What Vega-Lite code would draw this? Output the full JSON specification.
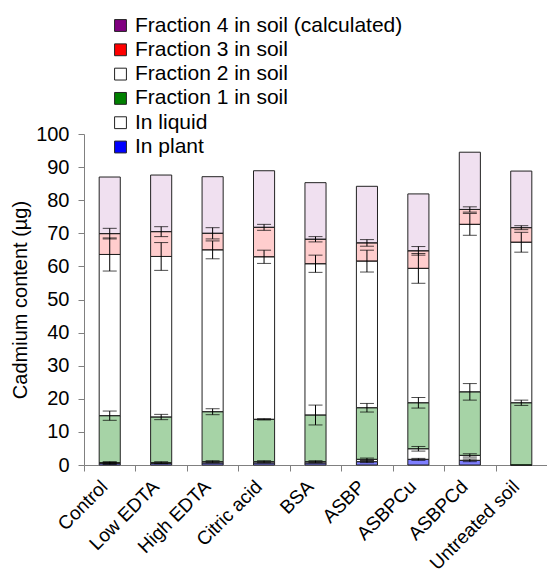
{
  "$schema": "https://vega.github.io/schema/vega-lite/v6.json",
  "width": 463,
  "height": 331,
  "autosize": {"type": "none"},
  "padding": {"left": 84, "top": 134, "right": 0, "bottom": 112},
  "background": "white",
  "config": {
    "font": "Liberation Sans",
    "view": {"stroke": null},
    "axis": {"grid": false, "labelFont": "Liberation Sans", "titleFont": "Liberation Sans", "labelColor": "black", "titleColor": "black", "domainColor": "#808080", "tickColor": "#808080"}
  },
  "data": {
    "values": [
      {"treatment": "Control", "series": "In plant", "order": 1, "value": 0.5, "err": 0.3},
      {"treatment": "Control", "series": "In liquid", "order": 2, "value": 0.2, "err": 0.3},
      {"treatment": "Control", "series": "Fraction 1 in soil", "order": 3, "value": 14.2, "err": 1.4},
      {"treatment": "Control", "series": "Fraction 2 in soil", "order": 4, "value": 48.7, "err": 5.0},
      {"treatment": "Control", "series": "Fraction 3 in soil", "order": 5, "value": 6.3, "err": 1.6},
      {"treatment": "Control", "series": "Fraction 4 in soil (calculated)", "order": 6, "value": 17.1, "err": null},

      {"treatment": "Low EDTA", "series": "In plant", "order": 1, "value": 0.5, "err": null},
      {"treatment": "Low EDTA", "series": "In liquid", "order": 2, "value": 0.2, "err": 0.3},
      {"treatment": "Low EDTA", "series": "Fraction 1 in soil", "order": 3, "value": 13.8, "err": 0.8},
      {"treatment": "Low EDTA", "series": "Fraction 2 in soil", "order": 4, "value": 48.5, "err": 4.2},
      {"treatment": "Low EDTA", "series": "Fraction 3 in soil", "order": 5, "value": 7.5, "err": 1.5},
      {"treatment": "Low EDTA", "series": "Fraction 4 in soil (calculated)", "order": 6, "value": 17.1, "err": null},

      {"treatment": "High EDTA", "series": "In plant", "order": 1, "value": 0.6, "err": null},
      {"treatment": "High EDTA", "series": "In liquid", "order": 2, "value": 0.4, "err": 0.3},
      {"treatment": "High EDTA", "series": "Fraction 1 in soil", "order": 3, "value": 15.1, "err": 0.9},
      {"treatment": "High EDTA", "series": "Fraction 2 in soil", "order": 4, "value": 48.9, "err": 2.7},
      {"treatment": "High EDTA", "series": "Fraction 3 in soil", "order": 5, "value": 5.0, "err": 1.7},
      {"treatment": "High EDTA", "series": "Fraction 4 in soil (calculated)", "order": 6, "value": 17.1, "err": null},

      {"treatment": "Citric acid", "series": "In plant", "order": 1, "value": 0.6, "err": null},
      {"treatment": "Citric acid", "series": "In liquid", "order": 2, "value": 0.4, "err": 0.3},
      {"treatment": "Citric acid", "series": "Fraction 1 in soil", "order": 3, "value": 12.8, "err": 0.2},
      {"treatment": "Citric acid", "series": "Fraction 2 in soil", "order": 4, "value": 49.1, "err": 2.0},
      {"treatment": "Citric acid", "series": "Fraction 3 in soil", "order": 5, "value": 8.9, "err": 0.9},
      {"treatment": "Citric acid", "series": "Fraction 4 in soil (calculated)", "order": 6, "value": 17.1, "err": null},

      {"treatment": "BSA", "series": "In plant", "order": 1, "value": 0.6, "err": null},
      {"treatment": "BSA", "series": "In liquid", "order": 2, "value": 0.4, "err": 0.3},
      {"treatment": "BSA", "series": "Fraction 1 in soil", "order": 3, "value": 14.1, "err": 3.0},
      {"treatment": "BSA", "series": "Fraction 2 in soil", "order": 4, "value": 45.7, "err": 2.6},
      {"treatment": "BSA", "series": "Fraction 3 in soil", "order": 5, "value": 7.4, "err": 0.8},
      {"treatment": "BSA", "series": "Fraction 4 in soil (calculated)", "order": 6, "value": 17.1, "err": null},

      {"treatment": "ASBP", "series": "In plant", "order": 1, "value": 1.0, "err": 0.3},
      {"treatment": "ASBP", "series": "In liquid", "order": 2, "value": 0.7, "err": 0.4},
      {"treatment": "ASBP", "series": "Fraction 1 in soil", "order": 3, "value": 15.6, "err": 1.3},
      {"treatment": "ASBP", "series": "Fraction 2 in soil", "order": 4, "value": 44.3, "err": 3.3},
      {"treatment": "ASBP", "series": "Fraction 3 in soil", "order": 5, "value": 5.5, "err": 1.0},
      {"treatment": "ASBP", "series": "Fraction 4 in soil (calculated)", "order": 6, "value": 17.1, "err": null},

      {"treatment": "ASBPCu", "series": "In plant", "order": 1, "value": 1.7, "err": 0.3},
      {"treatment": "ASBPCu", "series": "In liquid", "order": 2, "value": 3.2, "err": 0.7},
      {"treatment": "ASBPCu", "series": "Fraction 1 in soil", "order": 3, "value": 13.9, "err": 1.6},
      {"treatment": "ASBPCu", "series": "Fraction 2 in soil", "order": 4, "value": 40.6, "err": 4.5},
      {"treatment": "ASBPCu", "series": "Fraction 3 in soil", "order": 5, "value": 5.3, "err": 1.3},
      {"treatment": "ASBPCu", "series": "Fraction 4 in soil (calculated)", "order": 6, "value": 17.2, "err": null},

      {"treatment": "ASBPCd", "series": "In plant", "order": 1, "value": 1.4, "err": 0.4},
      {"treatment": "ASBPCd", "series": "In liquid", "order": 2, "value": 1.5, "err": 0.5},
      {"treatment": "ASBPCd", "series": "Fraction 1 in soil", "order": 3, "value": 19.2, "err": 2.5},
      {"treatment": "ASBPCd", "series": "Fraction 2 in soil", "order": 4, "value": 50.6, "err": 3.3},
      {"treatment": "ASBPCd", "series": "Fraction 3 in soil", "order": 5, "value": 4.5, "err": 0.8},
      {"treatment": "ASBPCd", "series": "Fraction 4 in soil (calculated)", "order": 6, "value": 17.3, "err": null},

      {"treatment": "Untreated soil", "series": "In plant", "order": 1, "value": 0, "err": null},
      {"treatment": "Untreated soil", "series": "In liquid", "order": 2, "value": 0, "err": null},
      {"treatment": "Untreated soil", "series": "Fraction 1 in soil", "order": 3, "value": 18.8, "err": 0.8},
      {"treatment": "Untreated soil", "series": "Fraction 2 in soil", "order": 4, "value": 48.5, "err": 3.0},
      {"treatment": "Untreated soil", "series": "Fraction 3 in soil", "order": 5, "value": 4.4, "err": 0.6},
      {"treatment": "Untreated soil", "series": "Fraction 4 in soil (calculated)", "order": 6, "value": 17.1, "err": null}
    ]
  },
  "encoding": {
    "x": {
      "field": "treatment",
      "type": "nominal",
      "sort": null,
      "scale": {"paddingInner": 0, "paddingOuter": 0},
      "axis": {"title": null, "labelAngle": -45, "labelFontSize": 19, "tickBand": "extent", "tickSize": 6, "labelPadding": 6, "labelOffset": -12, "domainColor": "#808080"}
    }
  },
  "layer": [
    {
      "mark": {"type": "bar", "width": {"band": 0.41}, "stroke": "#222222", "strokeWidth": 1},
      "encoding": {
        "y": {
          "field": "value",
          "type": "quantitative",
          "stack": "zero",
          "scale": {"domain": [0, 100]},
          "title": "Cadmium content (µg)",
          "axis": {"titleFontSize": 20, "titleFontWeight": "normal", "labelFontSize": 20, "values": [0,10,20,30,40,50,60,70,80,90,100], "labelOverlap": false, "tickSize": 6, "labelPadding": 9, "titlePadding": 5}
        },
        "order": {"field": "order", "type": "quantitative"},
        "color": {
          "field": "series",
          "type": "nominal",
          "scale": {
            "domain": ["Fraction 4 in soil (calculated)", "Fraction 3 in soil", "Fraction 2 in soil", "Fraction 1 in soil", "In liquid", "In plant"],
            "range": ["#800080", "#ff0000", "#ffffff", "#008000", "#ffffff", "#0000ff"]
          },
          "legend": {
            "title": null,
            "orient": "none",
            "legendX": 26,
            "legendY": -119,
            "symbolType": "square",
            "symbolSize": 140,
            "symbolStrokeColor": "#222222",
            "symbolStrokeWidth": 1,
            "symbolOpacity": 1,
            "labelFontSize": 21,
            "labelColor": "black",
            "labelLimit": 400,
            "rowPadding": 2.3,
            "padding": 0,
            "labelOffset": 4
          }
        },
        "fillOpacity": {
          "field": "series",
          "type": "nominal",
          "scale": {
            "domain": ["Fraction 4 in soil (calculated)", "Fraction 3 in soil", "Fraction 2 in soil", "Fraction 1 in soil", "In liquid", "In plant"],
            "range": [0.12, 0.5, 1, 0.5, 1, 0.9]
          },
          "legend": null
        }
      }
    },
    {
      "transform": [
        {"stack": "value", "groupby": ["treatment"], "sort": [{"field": "order", "order": "ascending"}], "as": ["y0", "y1"]},
        {"filter": {"field": "err", "valid": true}}
      ],
      "mark": {"type": "errorbar", "ticks": {"size": 14, "color": "black"}, "rule": {"color": "black"}, "color": "black"},
      "encoding": {
        "y": {
          "field": "y1",
          "type": "quantitative",
          "title": "Cadmium content (µg)",
          "axis": {"titleFontSize": 20, "titleFontWeight": "normal", "labelFontSize": 20, "values": [0,10,20,30,40,50,60,70,80,90,100], "labelOverlap": false, "tickSize": 6, "labelPadding": 9, "titlePadding": 5}
        },
        "yError": {"field": "err"}
      }
    }
  ]
}
